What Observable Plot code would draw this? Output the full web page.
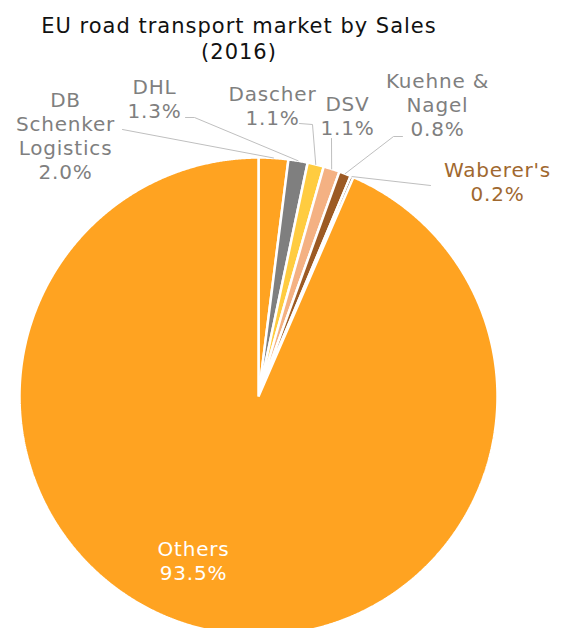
<!DOCTYPE html>
<html>
<head>
<meta charset="utf-8">
<script src="https://cdn.jsdelivr.net/npm/d3@7"></script>
<script src="https://cdn.jsdelivr.net/npm/@observablehq/plot@0.6"></script>
<style>
  html, body { margin: 0; padding: 0; background: #fff; }
  #title { width: 478px; height: 54px; padding-top: 13px; text-align: center;
           font-family: "DejaVu Sans", sans-serif; font-size: 21px; line-height: 26px;
           letter-spacing: 1px; color: #111; }
  #chart svg text { letter-spacing: 0.8px; }
</style>
</head>
<body>
<div id="title">EU road transport market by Sales<br>(2016)</div>
<div id="chart"></div>
<script>
// ---- data ----
const categories = ["DB Schenker Logistics", "DHL", "Dascher", "DSV", "Kuehne & Nagel", "Waberer's", "Others"];
const labelNames = ["DB\nSchenker\nLogistics", "DHL", "Dascher", "DSV", "Kuehne &\nNagel", "Waberer's", "Others"];
const shares = [2.0, 1.3, 1.1, 1.1, 0.8, 0.2, 93.5];
const sliceColors = ["#FFA321", "#7F7F7F", "#FFCC40", "#F4B183", "#9C5A24", "#6E3C12", "#FFA321"];
const labelColors = ["#7F7F7F", "#7F7F7F", "#7F7F7F", "#7F7F7F", "#7F7F7F", "#A0682F", "#FFFFFF"];

// ---- layout (page pixel positions of labels / leader starts) ----
const W = 563, TOP = 67, H = 628 - TOP, CX = 258, CY = 396 - TOP, R = 239;
const labelAt = [[65, 134.5], [154, 97.5], [272, 104.5], [347, 115], [437, 104], [497, 181], [193, 560]];
const leaderFrom = [[[122, 129]], [[185, 117], [194, 117]], [[299, 123], [312, 124]], [[331, 138]],
                    [[402, 136], [393, 136]], [[430, 185]], null];

const sx = px => (px - CX) / R;
const sy = py => (CY - (py - TOP)) / R;

const data = categories.map((name, i) => ({name, share: shares[i], color: sliceColors[i],
  label: labelNames[i] + "\n" + shares[i].toFixed(1) + "%", labelColor: labelColors[i], i}));

const arcs = d3.pie().sort(null).value(d => d.share)(data);

const slicePts = arcs.flatMap(a => {
  const d = a.data;
  const n = Math.max(2, Math.ceil((a.endAngle - a.startAngle) / (Math.PI / 720)));
  const pts = [{name: d.name, color: d.color, u: 0, v: 0}];
  for (let k = 0; k <= n; k++) {
    const t = a.startAngle + (a.endAngle - a.startAngle) * k / n;
    pts.push({name: d.name, color: d.color, u: Math.sin(t), v: Math.cos(t)});
  }
  return pts;
});

const leaders = arcs.flatMap(a => {
  const d = a.data, from = leaderFrom[d.i];
  if (!from) return [];
  const mid = (a.startAngle + a.endAngle) / 2;
  const pts = from.map(([px, py]) => ({name: d.name, u: sx(px), v: sy(py)}));
  pts.push({name: d.name, u: Math.sin(mid), v: Math.cos(mid)});
  return pts;
});

const labels = data.map(d => ({...d, u: sx(labelAt[d.i][0]), v: sy(labelAt[d.i][1])}));

const chart = Plot.plot({
  width: W,
  height: H,
  margin: 0,
  x: {domain: [sx(0), sx(W)], axis: null},
  y: {domain: [sy(628), sy(TOP)], axis: null},
  color: {type: "identity"},
  marks: [
    Plot.line(slicePts, {x: "u", y: "v", z: "name", fill: "color", stroke: "white",
      strokeWidth: 2.5, strokeLinejoin: "miter", curve: "linear-closed"}),
    Plot.line(leaders, {x: "u", y: "v", z: "name", stroke: "#BFBFBF", strokeWidth: 1}),
    Plot.text(labels, {x: "u", y: "v", text: "label", fill: "labelColor", fontSize: 20,
      lineHeight: 1.2, fontFamily: "DejaVu Sans", textAnchor: "middle"})
  ]
});
document.getElementById("chart").appendChild(chart);
</script>
</body>
</html>
